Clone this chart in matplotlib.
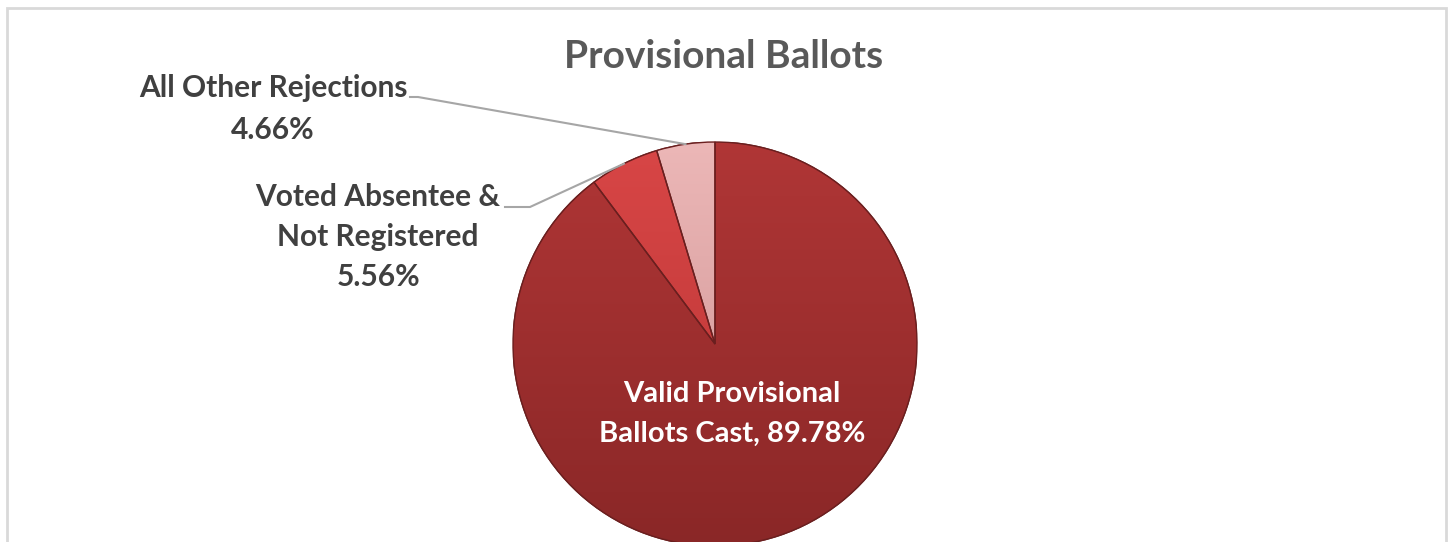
import numpy as np
import matplotlib
matplotlib.use("Agg")
import matplotlib.pyplot as plt
from matplotlib.patches import Rectangle, Wedge
from matplotlib.colors import LinearSegmentedColormap

# ---- data ----
categories = ["Valid Provisional\nBallots Cast", "Voted Absentee &\nNot Registered", "All Other Rejections"]
values = [89.78, 5.56, 4.66]
title = "Provisional Ballots"

W, H = 1450, 542
fig = plt.figure(figsize=(W / 100, H / 100), dpi=100)
fig.patch.set_facecolor("white")

FONT = ["Lato", "DejaVu Sans"]

# chart frame
fig.patches.append(Rectangle((7 / W, -0.1), (1446 - 7) / W, (H - 8) / H + 0.1,
                             transform=fig.transFigure, fill=False,
                             edgecolor="#d9d9d9", linewidth=2, zorder=0))

# pie axes: centre (715,344) px, radius 202 px
cx, cy, r = 715, 344, 202
ax = fig.add_axes([(cx - r) / W, (H - cy - r) / H, 2 * r / W, 2 * r / H])
ax.axis("off")

colors = ["#a83333", "#cf4040", "#e2a3a3"]
grad_top = ["#b03636", "#d84646", "#ecb7b7"]
grad_bot = ["#8a2727", "#b83434", "#cc9090"]

wedges, _ = ax.pie(values, startangle=90, counterclock=False, colors=colors,
                   radius=1.0, center=(0, 0), frame=False,
                   wedgeprops=dict(edgecolor="#6e2020", linewidth=1.0))
ax.set_xlim(-1, 1)
ax.set_ylim(-1, 1)

# gradient shading clipped to each wedge
yy = np.linspace(1, 0, 256).reshape(-1, 1)
for w, ct, cb in zip(wedges, grad_top, grad_bot):
    cmap = LinearSegmentedColormap.from_list("g", [cb, ct])
    im = ax.imshow(np.tile(yy, (1, 2)), cmap=cmap, extent=(-1, 1, -1, 1),
                   origin="upper", aspect="auto", zorder=w.get_zorder() + 0.1,
                   interpolation="bilinear")
    im.set_clip_path(w)
    ax.add_patch(Wedge(w.center, w.r, w.theta1, w.theta2, fill=False,
                       edgecolor="#6a1f1f", linewidth=1.0,
                       zorder=w.get_zorder() + 0.2))
ax.set_xlim(-1, 1)
ax.set_ylim(-1, 1)

# title
fig.text(724 / W, 1 - 56 / H, title, ha="center", va="center", fontsize=28,
         fontweight="bold", color="#595959", family=FONT)

# inside label for main slice
fig.text(732 / W, 1 - 414 / H, f"Valid Provisional\nBallots Cast, {values[0]:.2f}%",
         ha="center", va="center", fontsize=21, fontweight="bold", color="white",
         family=FONT, linespacing=1.65)

def edge_point(w):
    mid = np.deg2rad((w.theta1 + w.theta2) / 2)
    return np.cos(mid), np.sin(mid)

lbl_color = "#404040"
# All Other Rejections
fig.text(273 / W, 1 - 109 / H, f"All Other Rejections\n{values[2]:.2f}%",
         ha="center", va="center", fontsize=21.5, fontweight="bold", color=lbl_color,
         family=FONT, linespacing=1.65)
# Voted Absentee
fig.text(378 / W, 1 - 237 / H, f"Voted Absentee &\nNot Registered\n{values[1]:.2f}%",
         ha="center", va="center", fontsize=21.5, fontweight="bold", color=lbl_color,
         family=FONT, linespacing=1.5)

# leader lines (from label to wedge edge midpoint)
def px_to_data(px, py):
    return ((px - cx) / r, (cy - py) / r)

for w, (sx, sy), (bx, by) in [(wedges[2], (410, 97), (418, 97)),
                              (wedges[1], (505, 207), (530, 207))]:
    ex, ey = edge_point(w)
    p0 = px_to_data(sx, sy)
    p1 = px_to_data(bx, by)
    ax.plot([p0[0], p1[0], ex], [p0[1], p1[1], ey], color="#a6a6a6",
            linewidth=1.5, clip_on=False, zorder=10)

fig.savefig("out.png", dpi=100, facecolor="white")
